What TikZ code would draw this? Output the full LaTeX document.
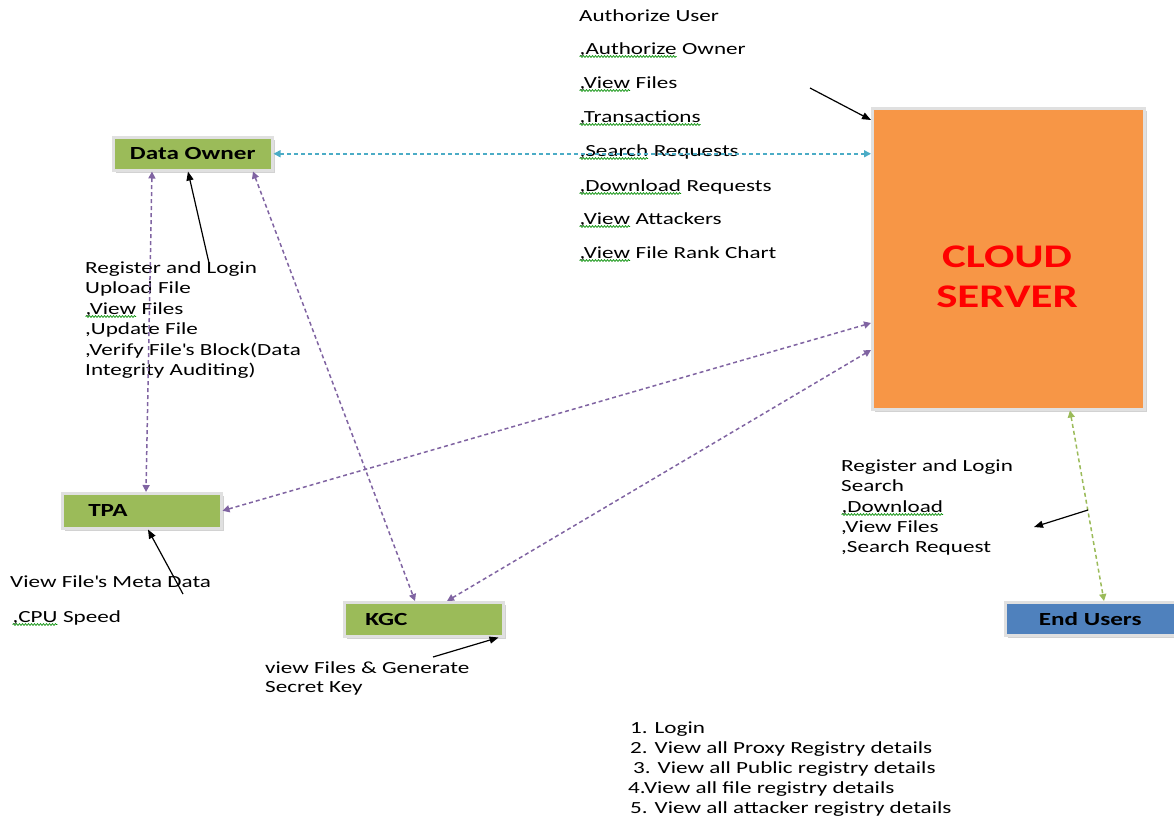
\documentclass[tikz,border=0pt]{standalone}
\usepackage{fontspec}
\setmainfont{Carlito}[FakeStretch=1.36]
\usetikzlibrary{arrows.meta,shadows,decorations.pathmorphing,calc}
\definecolor{ogreen}{HTML}{9BBB59}
\definecolor{oorange}{HTML}{F79646}
\definecolor{oblue}{HTML}{4F81BD}
\definecolor{opurple}{HTML}{8064A2}
\definecolor{ocyan}{HTML}{4BACC6}
\tikzset{box/.style={draw=black!12, line width=2.5pt, inner sep=0pt, anchor=north west, font=\fontsize{18.5}{20}\selectfont\bfseries, drop shadow={shadow xshift=3pt, shadow yshift=-3pt, fill=black!35}}}
\tikzset{txt/.style={anchor=base west, inner sep=0pt, font=\fontsize{17}{20}\selectfont}}
\tikzset{darrow/.style={line width=1.5pt, dash pattern=on 4pt off 3pt, {Triangle[length=7pt,width=7pt]}-{Triangle[length=7pt,width=7pt]}}}
\tikzset{barrow/.style={line width=1.2pt, -{Triangle[length=9pt,width=7pt]}}}
\tikzset{squiggle/.style={draw=green!55!black, line width=0.7pt, decorate, decoration={snake, amplitude=0.9pt, segment length=3pt}}}
\newcommand\squig[1]{\tikz[baseline=(w.base)]{\node[inner sep=0pt,outer sep=0pt] (w) {#1};\draw[squiggle] ([yshift=-2.5pt]w.base west) -- ([yshift=-2.5pt]w.base east);}}

\begin{document}
\begin{tikzpicture}[x=1pt,y=-1pt]
      \useasboundingbox (0,0) rectangle (1174,820);
      % boxes
      \node[box, fill=ogreen, minimum width=159, minimum height=33] (own) at (112,136) {Data Owner};
      \node[box, fill=oorange, minimum width=272, minimum height=301] (cloud) at (871,107) {};
      \node[box, fill=ogreen, minimum width=159, minimum height=35, text width=159, align=left] (tpa) at (61,492) {\hspace*{26pt}TPA};
      \node[box, fill=ogreen, minimum width=159, minimum height=34, text width=159, align=left] (kgc) at (343,601) {\hspace*{21pt}KGC};
      \node[box, fill=oblue, minimum width=170, minimum height=33] (eu) at (1004,601) {End Users};
      \node[align=center, text=red, font=\fontsize{33}{40}\selectfont\bfseries] (cstxt) at (1007,277) {CLOUD\\SERVER};
      % cloud server list
      \node[txt] (cs1) at (579,21) {Authorize User};
      \node[txt] (cs2) at (579,54) {\squig{,Authorize} Owner};
      \node[txt] (cs3) at (579,88) {\squig{,View} Files};
      \node[txt] (cs4) at (579,122) {\squig{,Transactions}};
      \node[txt] (cs5) at (579,156) {\squig{,Search} Requests};
      \node[txt] (cs6) at (579,191) {\squig{,Download} Requests};
      \node[txt] (cs7) at (579,224) {\squig{,View} Attackers};
      \node[txt] (cs8) at (579,258) {\squig{,View} File Rank Chart};
      % data owner list
      \node[txt] (do1) at (85,273) {Register and Login};
      \node[txt] (do2) at (85,293) {Upload File};
      \node[txt] (do3) at (85,314) {\squig{,View} Files};
      \node[txt] (do4) at (85,334) {,Update File};
      \node[txt] (do5) at (85,355) {,Verify File\textquotesingle s Block(Data};
      \node[txt] (do6) at (85,375) {Integrity Auditing)};
      % tpa list
      \node[txt] (tp1) at (10,587) {View File\textquotesingle s Meta Data};
      \node[txt] (tp2) at (12,622) {\squig{,CPU} Speed};
      % kgc list
      \node[txt] (kg1) at (265,673) {view Files \& Generate};
      \node[txt] (kg2) at (265,692) {Secret Key};
      % end user list
      \node[txt] (us1) at (841,471) {Register and Login};
      \node[txt] (us2) at (841,491) {Search};
      \node[txt] (us3) at (841,512) {\squig{,Download}};
      \node[txt] (us4) at (841,532) {,View Files};
      \node[txt] (us5) at (841,552) {,Search Request};
      % bottom list
      \node[txt] (bl1) at (630,733) {1. Login};
      \node[txt] (bl2) at (630,753) {2. View all Proxy Registry details};
      \node[txt] (bl3) at (633,773) {3. View all Public registry details};
      \node[txt] (bl4) at (628,793) {4.View all file registry details};
      \node[txt] (bl5) at (630,813) {5. View all attacker registry details};
      % dashed links
      \draw[darrow, ocyan] (own.east) -- (cloud.west |- own.east);
      \draw[darrow, opurple] ([xshift=40]own.south west) -- ([xshift=85]tpa.north west);
      \draw[darrow, opurple] ([xshift=141]own.south west) -- ([xshift=72]kgc.north west);
      \draw[darrow, opurple] (tpa.east) -- ([yshift=-216]cloud.north west);
      \draw[darrow, opurple] ([xshift=104]kgc.north west) -- ([yshift=-243]cloud.north west);
      \draw[darrow, ogreen] ([xshift=199]cloud.south west) -- ([xshift=100]eu.north west);
      % black arrows
      \coordinate (c1) at (810,88);
      \coordinate (c2) at (209,263);
      \coordinate (c3) at (183,594);
      \coordinate (c4) at (433,657);
      \coordinate (c5) at (1088,510);
      \coordinate (c6) at (1034,527);
      \draw[barrow] (c1) -- ([yshift=-13]cloud.north west);
      \draw[barrow] (c2) -- ([xshift=76]own.south west);
      \draw[barrow] (c3) -- ([xshift=87]tpa.south west);
      \draw[barrow] (c4) -- ([xshift=-6]kgc.south east);
      \draw[barrow] (c5) -- (c6);
\end{tikzpicture}
\end{document}
